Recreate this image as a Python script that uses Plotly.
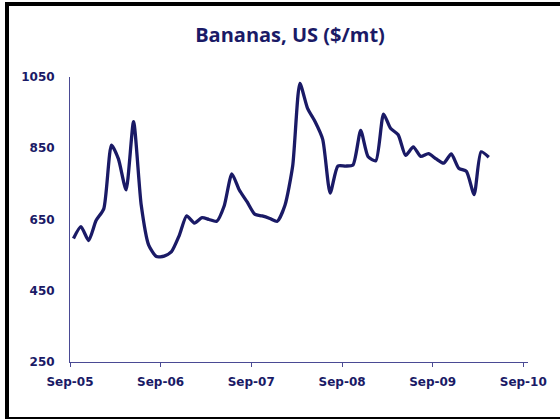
import plotly.graph_objects as go
import pandas as pd

# Monthly prices, Sep-2005 .. Apr-2010 (plotted mid-month)
months = pd.date_range("2005-09-01", periods=56, freq="MS") + pd.Timedelta(days=14)
prices = [597, 630, 591, 647, 680, 859, 820, 733, 925, 690,
          578, 546, 547, 560, 605, 660, 640, 655, 650, 645,
          688, 778, 733, 700, 665, 660, 653, 645, 690, 800,
          1032, 962, 925, 875, 724, 800, 800, 803, 900, 826,
          815, 946, 906, 888, 830, 854, 827, 835, 820, 808,
          834, 794, 785, 720, 840, 825]
x_ticks = ["2005-09-01", "2006-09-01", "2007-09-01", "2008-09-01", "2009-09-01", "2010-09-01"]
x_tick_labels = ["Sep-05", "Sep-06", "Sep-07", "Sep-08", "Sep-09", "Sep-10"]
y_ticks = [250, 450, 650, 850, 1050]

navy = "#1a1a66"
axis_col = "#4a4a94"

fig = go.Figure()
fig.add_trace(go.Scatter(
    x=months, y=prices, mode="lines",
    line=dict(color=navy, width=3.3, shape="spline", smoothing=0.6),
    hoverinfo="skip", showlegend=False,
))

L, R, T, B = 70, 32, 77, 58
pw, ph = 560 - L - R, 420 - T - B

def px(x):
    return (x - L) / pw

def py(y):
    return (420 - B - y) / ph

shapes = [
    dict(type="rect", xref="paper", yref="paper", x0=px(5), x1=px(9), y0=py(419), y1=py(2),
         fillcolor="black", line=dict(width=0), layer="above"),
    dict(type="rect", xref="paper", yref="paper", x0=px(5), x1=px(560), y0=py(6), y1=py(2),
         fillcolor="black", line=dict(width=0), layer="above"),
    dict(type="rect", xref="paper", yref="paper", x0=px(5), x1=px(560), y0=py(419), y1=py(417),
         fillcolor="black", line=dict(width=0), layer="above"),
]

fig.update_layout(
    width=560, height=420,
    margin=dict(l=L, r=R, t=T, b=B),
    paper_bgcolor="white", plot_bgcolor="white",
    title=dict(text="<b>Bananas, US ($/mt)</b>", x=290 / 560, xanchor="center",
               y=1 - 35 / 420, yanchor="middle",
               font=dict(family="Open Sans, sans-serif", size=20, color=navy)),
    shapes=shapes,
    xaxis=dict(
        type="date", range=["2005-09-01", "2010-09-20"],
        tickvals=x_ticks, ticktext=x_tick_labels,
        showgrid=False, zeroline=False,
        showline=True, linecolor=axis_col, linewidth=1,
        ticks="outside", ticklen=4, tickcolor=axis_col, tickwidth=1,
        tickfont=dict(family="DejaVu Sans", size=12, color=navy, weight="bold"),
        ticklabelstandoff=5,
    ),
    yaxis=dict(
        range=[250, 1050], tickvals=y_ticks,
        showgrid=False, zeroline=False,
        showline=True, linecolor=axis_col, linewidth=1,
        ticks="",
        tickfont=dict(family="DejaVu Sans", size=12, color=navy, weight="bold"),
        ticklabelstandoff=12,
    ),
)

fig.write_html("out.html", config={"displayModeBar": False},
               post_script="document.body.style.margin='0';")
